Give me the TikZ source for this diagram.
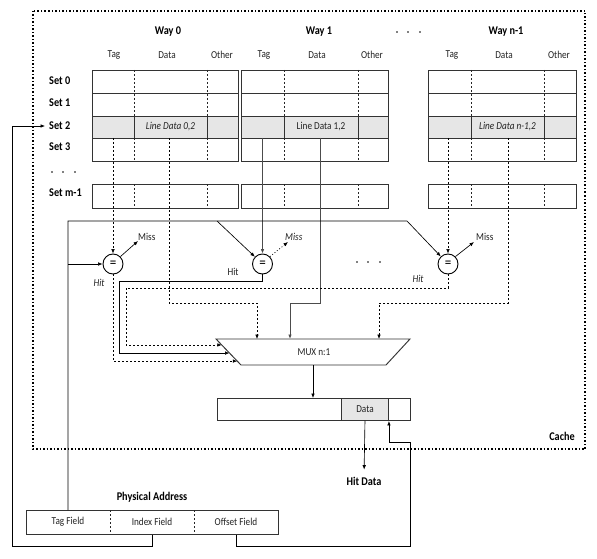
\documentclass[tikz,border=0pt]{standalone}
\usepackage{fontspec}
\setmainfont[FakeStretch=0.87]{Carlito}
\usetikzlibrary{arrows.meta,calc}
\definecolor{cellgray}{HTML}{E6E6E6}
\definecolor{ink}{HTML}{222222}
\begin{document}
\begin{tikzpicture}[x=1pt,y=-1pt,
  box/.style={draw=black!80,line width=0.95pt},
  div/.style={draw=black!85,line width=0.8pt,dash pattern=on 2pt off 2pt},
  conn/.style={draw=black,line width=0.65pt},
  gconn/.style={draw=black!70,line width=0.9pt},
  dconn/.style={conn,dash pattern=on 2pt off 2pt},
  arr/.style={-{Latex[length=4.5pt,width=3.6pt]}},
  lbl/.style={font=\fontsize{10.6}{11}\selectfont, text=ink, inner sep=0pt},
  ilbl/.style={lbl,font=\fontsize{10.6}{11}\selectfont\itshape},
  blbl/.style={font=\fontsize{11.8}{12}\selectfont\bfseries, text=black, inner sep=0pt},
  cmp/.style={circle,draw,line width=0.9pt,minimum size=20pt,inner sep=0pt,font=\fontsize{15}{15}\selectfont}
]
\useasboundingbox (0,0) rectangle (597,559);

% cache border
\draw[line width=1.1pt,dash pattern=on 1.5pt off 2pt] (33,11) rectangle (585,449);

% way headers
\node[blbl] (w0) at (168,32) {Way 0};
\node[blbl] (w1) at (319,32) {Way 1};
\node[blbl] (wn) at (506,32) {Way n-1};
\foreach \x in {397,408,420} \fill (\x,32) circle (0.9);

% column labels
\node[lbl] (t0) at (114,55) {Tag};  \node[lbl] (d0) at (167,55) {Data}; \node[lbl] (o0) at (222,55) {Other};
\node[lbl] (t1) at (264,55) {Tag};  \node[lbl] (d1) at (317,55) {Data}; \node[lbl] (o1) at (372,55) {Other};
\node[lbl] (tn) at (452,55) {Tag};  \node[lbl] (dn) at (504,55) {Data}; \node[lbl] (on) at (559,55) {Other};

% set labels
\node[blbl,anchor=west] (s0) at (49,81) {Set 0};
\node[blbl,anchor=west] (s1) at (49,103) {Set 1};
\node[blbl,anchor=west] (s2) at (49,126) {Set 2};
\node[blbl,anchor=west] (s3) at (49,147) {Set 3};
\node[blbl,anchor=west] (sm) at (49,193) {Set m-1};
\foreach \x in {52,63,75} \fill (\x,172) circle (0.9);

% way blocks
\foreach \L/\T/\D/\R in {92/134/207/238, 241/284/358/388, 428/471/544/576}{
  \fill[cellgray] (\L,116) rectangle (\R,138);
  \draw[box] (\L,70) rectangle (\R,161);
  \draw[box] (\L,93) -- (\R,93) (\L,116) -- (\R,116) (\L,138) -- (\R,138);
  \draw[div] (\T,70) -- (\T,116) (\D,70) -- (\D,116) (\T,138) -- (\T,161) (\D,138) -- (\D,161);
  \draw[box] (\T,116) -- (\T,138) (\D,116) -- (\D,138);
  \draw[box] (\L,184) rectangle (\R,208);
  \draw[div] (\T,184) -- (\T,208) (\D,184) -- (\D,208);
}
\node[ilbl] (ld0) at (170.5,127) {Line Data 0,2};
\node[lbl]  (ld1) at (321,127) {Line Data 1,2};
\node[ilbl] (ldn) at (507.5,127) {Line Data n-1,2};

% comparators
\node[cmp] (c1) at (113,264) {=};
\node[cmp] (c2) at (262.5,264) {=};
\node[cmp] (c3) at (448,264) {=};
\foreach \x in {357,368,380} \fill (\x,262) circle (0.9);

% miss labels and arrows
\node[lbl,anchor=south west] (m1) at (138,241) {Miss};
\node[ilbl,anchor=south west] (m2) at (285,241) {Miss};
\node[lbl,anchor=south west] (m3) at (476,241) {Miss};
\draw[conn,arr] (c1.45) -- (m1.south west);
\draw[conn,arr,dash pattern=on 1pt off 2pt] (c2.45) -- ($(m2.south west)+(3,1)$);
\draw[conn,arr] (c3.45) -- ($(m3.south west)+(-2,1)$);

% hit labels
\node[ilbl] (h1) at (99,283) {Hit};
\node[lbl]  (h2) at (233,272) {Hit};
\node[ilbl] (h3) at (418,279) {Hit};

% tag lines from set 2
\draw[dconn,arr] (113,138) -- (c1);
\draw[gconn,arr] (262.5,138) -- (c2);
\draw[dconn,arr] (448,138) -- (c3);

% MUX
\coordinate (mtl) at (216,339);
\coordinate (mtr) at (410,339);
\coordinate (mbr) at (386,365);
\coordinate (mbl) at (241,365);
\draw[box] (mtl) -- (mtr) -- (mbr) -- (mbl) -- cycle;
\node[lbl] (mux) at (314,352) {MUX n:1};
\path (mtl) -- (mbl) coordinate[pos=0.23] (in3) coordinate[pos=0.54] (in2) coordinate[pos=0.85] (in1);
\coordinate (mt0) at (257,339);
\coordinate (mt1) at (290,339);
\coordinate (mtn) at (379,339);
\coordinate (mout) at (313,365);

% data lines to MUX
\draw[dconn,arr] (169,138) -- (169,303) -| (mt0);
\draw[gconn,arr] (320,138) -- (320,303) -| (mt1);
\draw[dconn,arr] (508,138) -- (508,303) -| (mtn);

% hit lines to MUX
\draw[dconn,arr] (c1.south) |- (in1);
\draw[conn,arr] (c2.south) -- (262.5,281) -- (119,281) |- (in2);
\draw[dconn,arr] (c3.south) -- (448,288) -- (126,288) |- (in3);

% data register
\node[box,minimum width=193pt,minimum height=22pt,inner sep=0pt,anchor=north west] (reg) at (217,398) {};
\node[box,fill=cellgray,minimum width=47pt,minimum height=22pt,inner sep=0pt,anchor=north west,lbl] (dcell) at (341,398) {Data};
\draw[conn,arr] (mout) -- (mout |- reg.north);

% hit data
\node[blbl] (hd) at (364,481) {Hit Data};
\draw[conn,arr,shorten >=7pt] (dcell.south) -- (hd.north);

% cache label
\node[blbl] (cache) at (562,436) {Cache};

% physical address
\node[blbl] (pa) at (152,497) {Physical Address};
\node[box,minimum width=252pt,minimum height=24pt,inner sep=0pt,anchor=north west] (addr) at (26,510) {};
\draw[div] (110,510) -- (110,534) (194,510) -- (194,534);
\node[lbl] (ftag) at (68,522) {Tag Field};
\node[lbl] (findex) at (152,522) {Index Field};
\node[lbl] (foff) at (236,522) {Offset Field};

% tag field to comparators
\draw[conn,arr] (ftag.center |- addr.north) -- (68,221) -- (407,221) -- (c3);
\draw[conn,arr] (217,221) -- (c2);
\draw[conn,arr] (68,264) -- (c1);

% index field to set 2
\draw[conn,arr,shorten >=4pt] (findex.center |- addr.south) -- (152,546) -- (12,546) |- (s2.west);

% offset field to data
\draw[conn,arr] (foff.center |- addr.south) -- (236,546) -- (410,546) -- (410,442) -| (dcell.south east);
\end{tikzpicture}
\end{document}
